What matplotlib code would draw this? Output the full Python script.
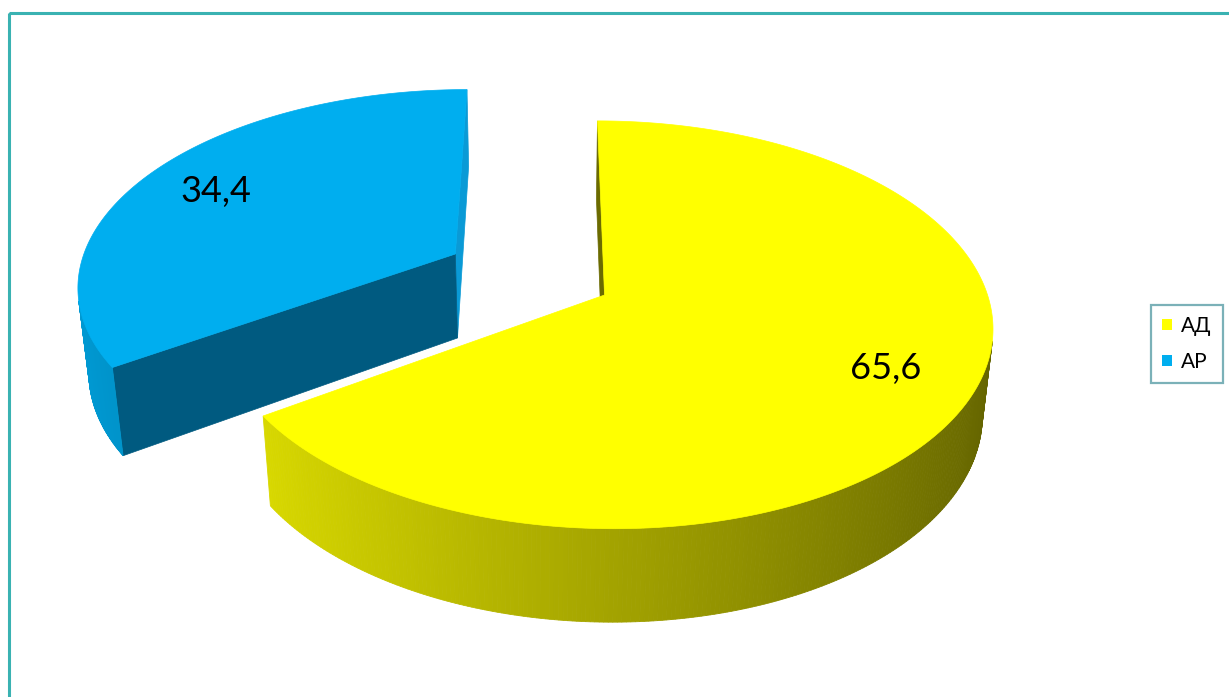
import numpy as np
import matplotlib.pyplot as plt
from matplotlib.patches import Polygon, Rectangle, Patch

plt.rcParams['font.family'] = ['Lato', 'DejaVu Sans']

categories = ['АД', 'АР']
values = [65.6, 34.4]
value_labels = ['65,6', '34,4']
top_colors = ['#ffff00', '#00aeef']
# colours of the two radial cut faces of each slice (start edge, end edge)
cut_colors = [('#6b6b00', '#6b6b00'), ('#0a9ad6', '#005a80')]
explode = [0.0, 0.45]

# perspective camera for the 3-D pie (screen units are pixels)
SCALE = 383.0
TILT = np.radians(31.4)
DIST = 5.84
VAN_X = 549.0
CAM_X = -0.145
CENTER_Y = 295.0
DEPTH = 0.268

cam = np.array([CAM_X, -DIST * np.cos(TILT), DIST * np.sin(TILT)])


def project(X, Y, Z):
    X, Y, Z = np.asarray(X, float), np.asarray(Y, float), np.asarray(Z, float)
    v = Y * np.sin(TILT) + Z * np.cos(TILT)
    w = Y * np.cos(TILT) - Z * np.sin(TILT)
    s = 1.0 / (1.0 + w / DIST)
    return VAN_X + SCALE * (X - CAM_X) * s, CENTER_Y - SCALE * v * s


def facing(normal, point):
    return np.dot(normal, cam - point) > 0


def shade(color, nx):
    rgb = np.array(plt.matplotlib.colors.to_rgb(color))
    return np.clip(rgb * (0.64 - 0.25 * nx), 0, 1)


fig = plt.figure(figsize=(12.29, 6.97), dpi=100)
ax = fig.add_axes([0, 0, 1, 1])
ax.set_xlim(0, 1229)
ax.set_ylim(697, 0)
ax.axis('off')

# slice angles: first slice runs clockwise from 12 o'clock
total = sum(values)
spans = [360.0 * v / total for v in values]
angles = [(90.0 - spans[0], 90.0), (90.0, 90.0 + spans[1])]

tops = []
for i, (t1, t2) in enumerate(angles):
    mid = np.radians((t1 + t2) / 2)
    ox, oy = explode[i] * np.cos(mid), explode[i] * np.sin(mid)
    o = np.array([ox, oy, 0.0])

    # radial cut faces
    for k, (t, sign) in enumerate(((t1, 1), (t2, -1))):
        tr = np.radians(t)
        normal = sign * np.array([np.sin(tr), -np.cos(tr), 0.0])
        rim = o + np.array([np.cos(tr), np.sin(tr), 0.0])
        if facing(normal, (o + rim) / 2 - [0, 0, DEPTH / 2]):
            xs, ys = project([o[0], rim[0], rim[0], o[0]],
                             [o[1], rim[1], rim[1], o[1]],
                             [0, 0, -DEPTH, -DEPTH])
            c = cut_colors[i][k]
            ax.add_patch(Polygon(np.column_stack([xs, ys]), closed=True,
                                 facecolor=c, edgecolor=c, linewidth=0.5))

    # outer rounded wall
    ts = np.radians(np.linspace(t1, t2, 400))
    for a, b in zip(ts[:-1], ts[1:]):
        m = (a + b) / 2
        normal = np.array([np.cos(m), np.sin(m), 0.0])
        p = o + normal - [0, 0, DEPTH / 2]
        if not facing(normal, p):
            continue
        X = [ox + np.cos(a), ox + np.cos(b), ox + np.cos(b), ox + np.cos(a)]
        Y = [oy + np.sin(a), oy + np.sin(b), oy + np.sin(b), oy + np.sin(a)]
        xs, ys = project(X, Y, [0, 0, -DEPTH, -DEPTH])
        c = shade(top_colors[i], np.cos(m))
        ax.add_patch(Polygon(np.column_stack([xs, ys]), closed=True,
                             facecolor=c, edgecolor=c, linewidth=0.6))

    # top face
    X = np.concatenate([[ox], ox + np.cos(ts)])
    Y = np.concatenate([[oy], oy + np.sin(ts)])
    xs, ys = project(X, Y, np.zeros_like(X))
    tops.append(Polygon(np.column_stack([xs, ys]), closed=True,
                        facecolor=top_colors[i], edgecolor=top_colors[i],
                        linewidth=0.5))

    # value label on the top face
    lx, ly = project(ox + 0.78 * np.cos(mid), oy + 0.74 * np.sin(mid), 0.0)
    tops.append((float(lx), float(ly), value_labels[i]))

for item in tops:
    if isinstance(item, tuple):
        ax.text(item[0], item[1], item[2], fontsize=26, color='black',
                ha='center', va='center', zorder=5)
    else:
        ax.add_patch(item)

# chart area border (only top and left fall inside the image)
ax.add_patch(Rectangle((9, 13), 1300, 800, fill=False,
                       edgecolor='#3ab2b2', linewidth=2.2))

handles = [Patch(facecolor=c, edgecolor='none') for c in top_colors]
leg = fig.legend(handles, categories, loc='center left',
                 bbox_to_anchor=(1151 / 1229, 1 - 344 / 697),
                 frameon=True, fancybox=False, edgecolor='#5a9ea6',
                 fontsize=15, handlelength=0.45, handleheight=0.45,
                 handletextpad=0.45, labelspacing=0.75, borderpad=0.55,
                 borderaxespad=0)
leg.get_frame().set_linewidth(1.6)

fig.savefig('out.png', dpi=100)
